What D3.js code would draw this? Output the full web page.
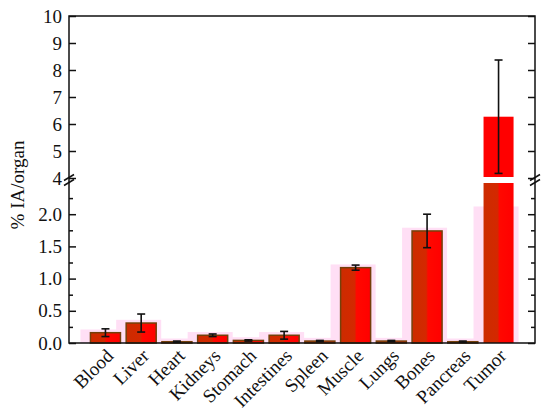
<!DOCTYPE html>
<html>
<head>
<meta charset="utf-8">
<script src="https://cdn.jsdelivr.net/npm/d3@7"></script>
<style>
  body { margin: 0; background: #fff; }
  #chart svg text { font-family: "Liberation Serif", "Times New Roman", Times, serif; fill: #111; }
</style>
</head>
<body>
<div id="chart"></div>
<script>
(function(){

    const organs = ["Blood", "Liver", "Heart", "Kidneys", "Stomach", "Intestines", "Spleen", "Muscle", "Lungs", "Bones", "Pancreas", "Tumor"];
    const uptake = [0.16, 0.31, 0.02, 0.12, 0.04, 0.12, 0.03, 1.17, 0.03, 1.74, 0.02, 6.27];
    const errors = [0.06, 0.14, 0.01, 0.02, 0.01, 0.06, 0.01, 0.04, 0.01, 0.26, 0.01, 2.10];
    const lowTicks = [0, 0.5, 1.0, 1.5, 2.0];
    const lowMinor = [0.25, 0.75, 1.25, 1.75, 2.25];
    const highTicks = [4, 5, 6, 7, 8, 9, 10];

    const width = 550, height = 415;
    const left = 69, right = 535, top = 16, bottom = 343;
    const serif = '"Liberation Serif", "Times New Roman", Times, serif';

    const svg = d3.select("#chart").append("svg")
        .attr("width", width)
        .attr("height", height)
        .attr("font-family", serif);

    const defs = svg.append("defs");
    const grad = defs.append("linearGradient").attr("id", "barfill")
        .attr("x1", "0%").attr("x2", "100%").attr("y1", "0%").attr("y2", "0%");
    grad.append("stop").attr("offset", "0%").attr("stop-color", "#cc2c00");
    grad.append("stop").attr("offset", "47%").attr("stop-color", "#d42800");
    grad.append("stop").attr("offset", "53%").attr("stop-color", "#ff0800");
    grad.append("stop").attr("offset", "100%").attr("stop-color", "#ff0000");

    // two y segments for the broken axis
    const yLow = d3.scaleLinear().domain([0, 2.5]).range([bottom, 182]);
    const yHigh = d3.scaleLinear().domain([4, 10]).range([178, top]);
    const y = v => v <= 2.5 ? yLow(v) : yHigh(v);

    const x = d3.scaleBand()
        .domain(organs)
        .range([left, right])
        .paddingInner(0.16)
        .paddingOuter(0.6);

    const rows = organs.map((o, i) => ({ organ: o, v: uptake[i], e: errors[i] }));

    // pink halo behind bars
    svg.append("g").selectAll("rect")
        .data(rows)
        .enter().append("rect")
        .attr("x", d => x(d.organ) - 10)
        .attr("width", x.bandwidth() + 15)
        .attr("y", d => yLow(Math.min(d.v + 0.05, 2.12)))
        .attr("height", d => bottom - yLow(Math.min(d.v + 0.05, 2.12)))
        .attr("fill", "#ffdff5");

    // lower bar pieces
    svg.append("g").selectAll("rect")
        .data(rows)
        .enter().append("rect")
        .attr("x", d => x(d.organ))
        .attr("width", x.bandwidth())
        .attr("y", d => d.v > 2.5 ? yLow(2.5) + 1 : yLow(d.v))
        .attr("height", d => bottom - (d.v > 2.5 ? yLow(2.5) + 1 : yLow(d.v)))
        .attr("fill", "url(#barfill)")
        .attr("stroke", d => d.v > 2.5 ? "none" : "#74400a")
        .attr("stroke-width", 1.5);

    // upper pieces for bars above the break
    svg.append("g").selectAll("rect")
        .data(rows.filter(d => d.v > 4))
        .enter().append("rect")
        .attr("x", d => x(d.organ))
        .attr("width", x.bandwidth())
        .attr("y", d => yHigh(d.v))
        .attr("height", d => yHigh(4) - 1 - yHigh(d.v))
        .attr("fill", "#ff0000");

    // error bars
    const eb = svg.append("g").attr("stroke", "#111").attr("stroke-width", 1.6);
    rows.forEach(d => {
        const cx = x(d.organ) + x.bandwidth() / 2;
        const y0 = y(d.v - d.e), y1 = y(d.v + d.e);
        eb.append("line").attr("x1", cx).attr("x2", cx).attr("y1", y0).attr("y2", y1);
        eb.append("line").attr("x1", cx - 4).attr("x2", cx + 4).attr("y1", y0).attr("y2", y0);
        eb.append("line").attr("x1", cx - 4).attr("x2", cx + 4).attr("y1", y1).attr("y2", y1);
    });

    // axes
    const fmtLow = d3.format(".1f");
    const gl = svg.append("g").attr("transform", `translate(${left},0)`);
    gl.append("g").call(d3.axisLeft(yLow).tickValues(lowTicks).tickFormat(fmtLow).tickSizeInner(-7).tickSizeOuter(0).tickPadding(7));
    gl.append("g").call(d3.axisLeft(yLow).tickValues(lowMinor).tickFormat("").tickSizeInner(-4).tickSizeOuter(0));
    gl.append("g").call(d3.axisLeft(yHigh).tickValues(highTicks).tickFormat(d3.format("d")).tickSizeInner(-7).tickSizeOuter(0).tickPadding(7));

    const gr = svg.append("g").attr("transform", `translate(${right},0)`);
    gr.append("g").call(d3.axisRight(yLow).tickValues(lowTicks).tickFormat("").tickSizeInner(-7).tickSizeOuter(0));
    gr.append("g").call(d3.axisRight(yLow).tickValues(lowMinor).tickFormat("").tickSizeInner(-4).tickSizeOuter(0));
    gr.append("g").call(d3.axisRight(yHigh).tickValues(highTicks).tickFormat("").tickSizeInner(-7).tickSizeOuter(0));

    svg.selectAll(".domain").remove();
    gl.selectAll("g").attr("font-family", serif).attr("font-size", 19);
    svg.selectAll(".tick line").attr("stroke", "#111").attr("stroke-width", 1.5);
    svg.selectAll(".tick text").attr("fill", "#111");

    // frame
    const frame = svg.append("g").attr("stroke", "#111").attr("stroke-width", 1.5).attr("fill", "none");
    frame.append("path").attr("d", `M${left},${top}H${right}V${bottom}H${left}Z`);

    // break marks
    [left, right].forEach(ax => {
        [177.5, 182.5].forEach(by => {
            svg.append("line")
                .attr("x1", ax - 5).attr("y1", by + 3)
                .attr("x2", ax + 5).attr("y2", by - 3)
                .attr("stroke", "#111").attr("stroke-width", 1.5);
        });
    });

    // x labels
    svg.append("g").selectAll("text")
        .data(organs)
        .enter().append("text")
        .attr("transform", d => `translate(${x(d) + x.bandwidth() / 2 + 9},${bottom + 14}) rotate(-45)`)
        .attr("text-anchor", "end")
        .attr("font-size", 19)
        .text(d => d);

    // y title
    svg.append("text")
        .attr("transform", "translate(24,185) rotate(-90)")
        .attr("text-anchor", "middle")
        .attr("font-size", 19)
        .text("% IA/organ");

})();
</script>
</body>
</html>
